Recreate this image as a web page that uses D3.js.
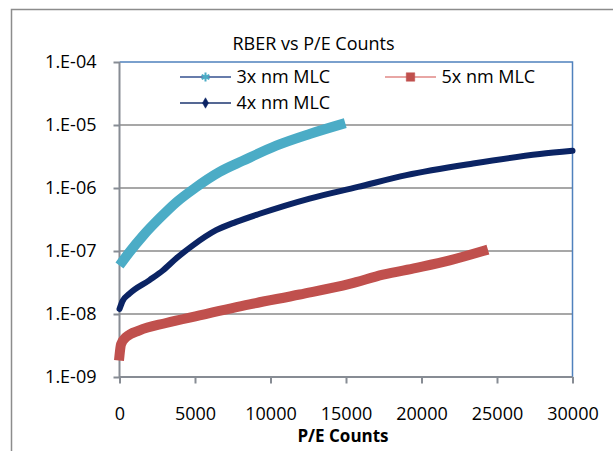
<!DOCTYPE html>
<html>
<head>
<meta charset="utf-8">
<script src="https://cdn.jsdelivr.net/npm/d3@7"></script>
<style>
  body { margin: 0; background: #fff; }
  svg { display: block; font-family: "Open Sans", sans-serif; }
</style>
</head>
<body>
<div id="chart"></div>
<script>
// P/E counts and RBER, one pair of arrays per series
var pe3x = [0, 660, 1550, 2650, 3750, 5000, 6630, 8170, 10380, 12590, 14950];
var rber3x = [5.9e-8, 9.6e-8, 1.74e-7, 3.3e-7, 5.9e-7, 1.0e-6, 1.8e-6, 2.7e-6, 4.7e-6, 7.2e-6, 1.07e-5];

var pe4x = [0, 200, 660, 1990, 2870, 3750, 4860, 6400, 7730, 9280, 12590, 15790, 19000, 23420, 27840, 30000];
var rber4x = [1.2e-8, 1.6e-8, 2.1e-8, 3.45e-8, 4.9e-8, 7.6e-8, 1.23e-7, 2.14e-7, 2.9e-7, 3.9e-7, 6.8e-7, 1.04e-6, 1.6e-6, 2.45e-6, 3.46e-6, 3.9e-6];

var pe5x = [0, 100, 440, 1325, 3090, 5300, 8610, 11930, 15240, 17450, 19660, 21870, 24080];
var rber5x = [2.2e-9, 3.3e-9, 4.3e-9, 5.5e-9, 7.2e-9, 9.5e-9, 1.42e-8, 2.04e-8, 3.0e-8, 4.2e-8, 5.4e-8, 7.1e-8, 1.0e-7];

var xTicks = [0, 5000, 10000, 15000, 20000, 25000, 30000];
var yTicks = [1e-9, 1e-8, 1e-7, 1e-6, 1e-5, 1e-4];
var yTickLabels = ["1.E-09", "1.E-08", "1.E-07", "1.E-06", "1.E-05", "1.E-04"];

var width = 613,
    height = 451;

// plot area edges (note: "top" is taken by window.top)
var plotLeft = 119.5, plotRight = 572.5, plotTop = 62, plotBottom = 377;

var svg = d3.select("#chart")
  .append("svg")
  .attr("width", width)
  .attr("height", height);

// outer chart frame (runs off the right and bottom of the window)
svg.append("rect")
  .attr("x", 11.5).attr("y", 9.5)
  .attr("width", 640).attr("height", 480)
  .attr("fill", "none")
  .attr("stroke", "#8c8c8c")
  .attr("stroke-width", 1.5);

var x = d3.scaleLinear().domain([0, 30000]).range([plotLeft, plotRight]);
var y = d3.scaleLog().domain([1e-9, 1e-4]).range([plotBottom, plotTop]);

// gridlines
svg.append("g")
  .selectAll("line")
  .data(yTicks.slice(1, 5))
  .enter().append("line")
  .attr("x1", plotLeft).attr("x2", plotRight)
  .attr("y1", function(d) { return y(d) })
  .attr("y2", function(d) { return y(d) })
  .attr("stroke", "#8a8a8a")
  .attr("stroke-width", 1.3);

// plot area border top + right
svg.append("path")
  .attr("d", "M" + plotLeft + "," + plotTop + "H" + plotRight + "V" + plotBottom)
  .attr("fill", "none")
  .attr("stroke", "#4f81bd")
  .attr("stroke-width", 1.5);

// axes
var yAxis = d3.axisLeft(y)
  .tickValues(yTicks)
  .tickFormat(function(d, i) { return yTickLabels[i] })
  .tickSize(6)
  .tickPadding(17);

var xAxis = d3.axisBottom(x)
  .tickValues(xTicks)
  .tickFormat(d3.format("d"))
  .tickSize(6.5)
  .tickPadding(24);

var gy = svg.append("g")
  .attr("transform", "translate(" + plotLeft + ",0)")
  .call(yAxis);

var gx = svg.append("g")
  .attr("transform", "translate(0," + plotBottom + ")")
  .call(xAxis);

[gx, gy].forEach(function(g) {
  g.select(".domain").attr("stroke", "#878c94").attr("stroke-width", 2);
  g.selectAll(".tick line").attr("stroke", "#878c94").attr("stroke-width", 2);
  g.selectAll(".tick text")
    .attr("fill", "#000")
    .style("font-family", "'Open Sans', sans-serif")
    .style("font-size", "18px");
});
gy.select(".domain").attr("d", "M0," + plotTop + "V" + plotBottom);
gx.select(".domain").attr("d", "M" + plotLeft + ",0H" + plotRight);

// series
function toPoints(xs, ys) {
  return xs.map(function(v, i) { return [v, ys[i]] });
}

var line = d3.line()
  .x(function(d) { return x(d[0]) })
  .y(function(d) { return y(d[1]) })
  .curve(d3.curveMonotoneX);

var series = [
  { name: "5x nm MLC", pts: toPoints(pe5x, rber5x), color: "#c0504d", w: 10, cap: "square" },
  { name: "4x nm MLC", pts: toPoints(pe4x, rber4x), color: "#0b2464", w: 6, cap: "round" },
  { name: "3x nm MLC", pts: toPoints(pe3x, rber3x), color: "#4bacc6", w: 10, cap: "butt" }
];

svg.append("g")
  .selectAll("path")
  .data(series)
  .enter().append("path")
  .attr("d", function(d) { return line(d.pts) })
  .attr("fill", "none")
  .attr("stroke", function(d) { return d.color })
  .attr("stroke-width", function(d) { return d.w })
  .attr("stroke-linecap", function(d) { return d.cap })
  .attr("stroke-linejoin", "round");

// title
svg.append("text")
  .attr("x", 313.5).attr("y", 49.5)
  .attr("text-anchor", "middle")
  .style("font-size", "18px")
  .text("RBER vs P/E Counts");

// x axis title
svg.append("text")
  .attr("x", 343).attr("y", 441.5)
  .attr("text-anchor", "middle")
  .style("font-size", "17px")
  .style("font-weight", "bold")
  .text("P/E Counts");

// legend
var legend = [
  { name: "3x nm MLC", x: 180, y: 77, line: "#34518f", mark: "star", color: "#4bacc6" },
  { name: "5x nm MLC", x: 385, y: 77, line: "#e08886", mark: "square", color: "#c0504d" },
  { name: "4x nm MLC", x: 180, y: 103, line: "#1d3670", mark: "diamond", color: "#0b2464" }
];

var lg = svg.append("g")
  .selectAll("g")
  .data(legend)
  .enter().append("g")
  .attr("transform", function(d) { return "translate(" + d.x + "," + d.y + ")" });

lg.append("line")
  .attr("x1", 0).attr("x2", 51)
  .attr("stroke", function(d) { return d.line })
  .attr("stroke-width", 1.3);

lg.append("path")
  .attr("transform", "translate(25.5,0)")
  .attr("d", function(d) {
    if (d.mark === "star") return d3.symbol(d3.symbolAsterisk, 55)();
    if (d.mark === "square") return d3.symbol(d3.symbolSquare, 72)();
    return d3.symbol(d3.symbolDiamond, 32)();
  })
  .attr("fill", function(d) { return d.mark === "star" ? "none" : d.color })
  .attr("stroke", function(d) { return d.color })
  .attr("stroke-width", function(d) { return d.mark === "star" ? 2 : 0.5 });

lg.append("text")
  .attr("x", 56.5)
  .attr("dy", "0.36em")
  .style("font-size", "18px")
  .text(function(d) { return d.name });
</script>
</body>
</html>
